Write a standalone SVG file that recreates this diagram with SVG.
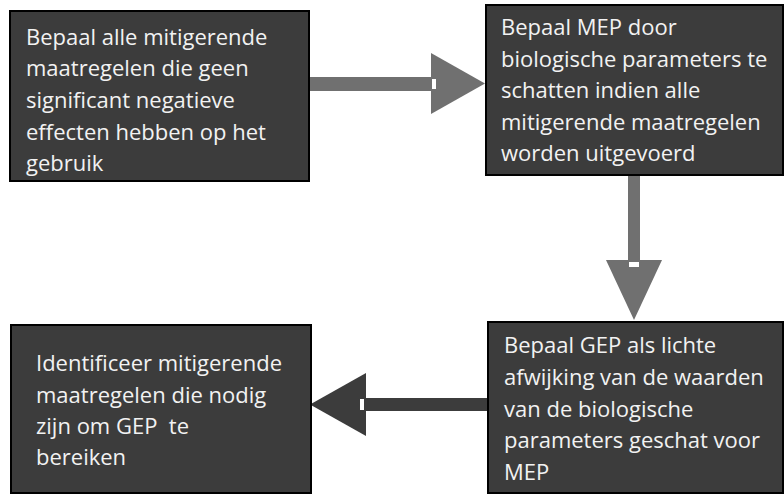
<svg xmlns="http://www.w3.org/2000/svg" width="784" height="495" viewBox="0 0 784 495">
<style>
.box{fill:#3c3c3c;stroke:#000;stroke-width:2}
.t{font-family:"Open Sans","Noto Sans",sans-serif;font-size:22px;fill:#f2f2f2}
.gray{fill:#707070}
.dark{fill:#3c3c3c}
.w{fill:#fff}
</style>
<rect width="784" height="495" fill="#fff"/>
<g id="connectors">
<g id="arrow1">
<rect class="gray" x="309" y="77" width="124" height="14"/>
<polygon class="gray" points="431,53 485,83.5 431,114"/>
<rect class="w" x="432" y="79" width="4" height="10"/>
</g>
<g id="arrow2">
<rect class="gray" x="628" y="175" width="12" height="87"/>
<polygon class="gray" points="606,260 662,260 634,320"/>
<rect class="w" x="629" y="262" width="10" height="5"/>
</g>
<g id="arrow3">
<rect class="dark" x="364" y="398" width="123" height="13"/>
<polygon class="dark" points="310,404.5 366,373 366,436"/>
<rect class="w" x="360" y="399" width="4" height="11"/>
</g>
</g>
<g id="node1">
<rect class="box" x="10" y="11" width="299" height="170"/>
<text class="t" x="26"><tspan x="26" y="45">Bepaal alle mitigerende</tspan><tspan x="26" y="76">maatregelen die geen</tspan><tspan x="26" y="108">significant negatieve</tspan><tspan x="26" y="140">effecten hebben op het</tspan><tspan x="26" y="171">gebruik</tspan></text>
</g>
<g id="node2">
<rect class="box" x="486" y="5" width="297" height="170"/>
<text class="t"><tspan x="501" y="35">Bepaal MEP door</tspan><tspan x="501" y="67">biologische parameters te</tspan><tspan x="501" y="98">schatten indien alle</tspan><tspan x="501" y="130">mitigerende maatregelen</tspan><tspan x="501" y="161">worden uitgevoerd</tspan></text>
</g>
<g id="node3">
<rect class="box" x="488" y="322" width="295" height="171"/>
<text class="t"><tspan x="504" y="353">Bepaal GEP als lichte</tspan><tspan x="504" y="385">afwijking van de waarden</tspan><tspan x="504" y="417">van de biologische</tspan><tspan x="504" y="448">parameters geschat voor</tspan><tspan x="504" y="480">MEP</tspan></text>
</g>
<g id="node4">
<rect class="box" x="11" y="325" width="300" height="168"/>
<text class="t" xml:space="preserve"><tspan x="36" y="371">Identificeer mitigerende</tspan><tspan x="36" y="403">maatregelen die nodig</tspan><tspan x="36" y="434">zijn om GEP  te</tspan><tspan x="36" y="465">bereiken</tspan></text>
</g>
</svg>
